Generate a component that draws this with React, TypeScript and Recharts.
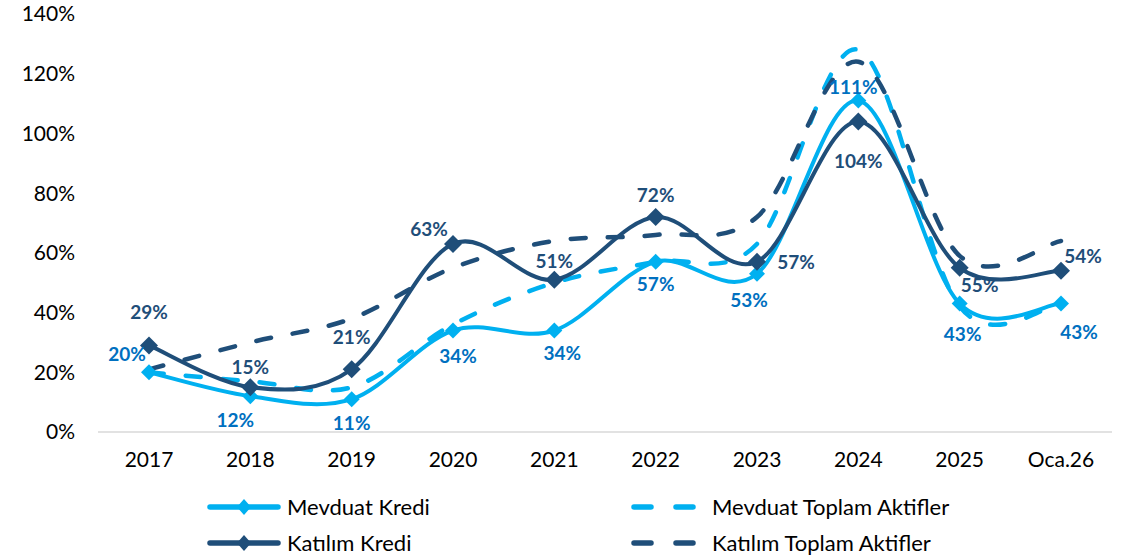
import { LineChart, Line, XAxis, YAxis } from "recharts"

// Growth rates, participation vs deposit banks (%)
const years = ["2017", "2018", "2019", "2020", "2021", "2022", "2023", "2024", "2025", "Oca.26"]
const mevduatKredi = [20, 12, 11, 34, 34, 57, 53, 111, 43, 43]
const mevduatAktif = [20, 17, 15, 36, 50, 57, 63, 128, 42, 43]
const katilimKredi = [29, 15, 21, 63, 51, 72, 57, 104, 55, 54]
const katilimAktif = [21, 30, 38, 55, 64, 66, 72, 124, 59, 64]
const yTicks = [0, 20, 40, 60, 80, 100, 120, 140]

const data = years.map((y, i) => ({
  year: y,
  mk: mevduatKredi[i],
  ma: mevduatAktif[i],
  kk: katilimKredi[i],
  ka: katilimAktif[i],
}))

const LIGHT = "#00B0F0"
const DARK = "#1F4E79"
const LIGHT_LABEL = "#0070C0"
const FONT = "Lato, 'Open Sans', sans-serif"

// label offsets (dx, dy) from each point
const mkLabelOffset = [[-22, -19], [-15, 23], [0, 23], [5, 25], [8, 22], [0, 22], [-8, 26], [-5, -14], [3, 30], [18, 28]]
const kkLabelOffset = [[0, -34], [0, -21], [0, -33], [-24, -15], [0, -19], [0, -23], [39, 0], [0, 39], [20, 17], [22, -15]]

// Excel-like smoothed line (Catmull-Rom through the points)
function excelCurve(context: any) {
  let pts: number[][] = []
  return {
    areaStart() {},
    areaEnd() {},
    lineStart() {
      pts = []
    },
    point(x: number, y: number) {
      pts.push([+x, +y])
    },
    lineEnd() {
      if (!pts.length) return
      context.moveTo(pts[0][0], pts[0][1])
      for (let i = 0; i < pts.length - 1; i++) {
        const p0 = pts[Math.max(i - 1, 0)]
        const p1 = pts[i]
        const p2 = pts[i + 1]
        const p3 = pts[Math.min(i + 2, pts.length - 1)]
        context.bezierCurveTo(
          p1[0] + (p2[0] - p0[0]) / 6,
          p1[1] + (p2[1] - p0[1]) / 6,
          p2[0] - (p3[0] - p1[0]) / 6,
          p2[1] - (p3[1] - p1[1]) / 6,
          p2[0],
          p2[1]
        )
      }
    },
  }
}

const diamond = (color: string, r: number) => (props: any) => {
  const { cx, cy, index } = props
  if (cx == null || cy == null) return <g key={index} />
  return (
    <polygon
      key={index}
      points={`${cx},${cy - r} ${cx + r},${cy} ${cx},${cy + r} ${cx - r},${cy}`}
      fill={color}
    />
  )
}

const makeLabel = (color: string, offsets: number[][]) => (props: any) => {
  const { x, y, value, index } = props
  const [dx, dy] = offsets[index] || [0, 0]
  return (
    <text
      x={x + dx}
      y={y + dy}
      textAnchor="middle"
      dominantBaseline="central"
      fill={color}
      fontFamily={FONT}
      fontWeight={700}
      fontSize={19}
    >
      {value}%
    </text>
  )
}

function LegendIcon({ color, dashed }: { color: string; dashed: boolean }) {
  if (dashed) {
    return (
      <svg width={68} height={16} style={{ display: "block" }}>
        <line x1={3} y1={8} x2={65} y2={8} stroke={color} strokeWidth={5.5} strokeLinecap="round" strokeDasharray="17 25" />
      </svg>
    )
  }
  return (
    <svg width={74} height={16} style={{ display: "block" }}>
      <line x1={3} y1={8} x2={71} y2={8} stroke={color} strokeWidth={5.5} strokeLinecap="round" />
      <polygon points="37,0 44,8 37,16 30,8" fill={color} />
    </svg>
  )
}

const legendItems = [
  { name: "Mevduat Kredi", color: LIGHT, dashed: false, left: 207, top: 494, gap: 6 },
  { name: "Mevduat Toplam Aktifler", color: LIGHT, dashed: true, left: 631, top: 494, gap: 13 },
  { name: "Katılım Kredi", color: DARK, dashed: false, left: 207, top: 530, gap: 6 },
  { name: "Katılım Toplam Aktifler", color: DARK, dashed: true, left: 631, top: 530, gap: 13 },
]

export default function App() {
  return (
    <div style={{ position: "absolute", left: 0, top: 0, width: 1122, height: 557, background: "#fff" }}>
      <LineChart width={1122} height={557} data={data} margin={{ top: 14, right: 10, left: 0, bottom: 85 }}>
        <XAxis
          dataKey="year"
          height={40}
          padding={{ left: 51, right: 51 }}
          tickLine={false}
          axisLine={{ stroke: "#D9D9D9", strokeWidth: 1.5 }}
          tick={{ fill: "#000", fontSize: 21, fontFamily: FONT }}
          tickMargin={14}
        />
        <YAxis
          width={98}
          domain={[0, 140]}
          ticks={yTicks}
          interval={0}
          tickLine={false}
          axisLine={false}
          tickFormatter={(v: number) => `${v}%`}
          tick={{ fill: "#000", fontSize: 21, fontFamily: FONT }}
          tickMargin={17}
        />
        <Line
          type={excelCurve as any}
          dataKey="ma"
          stroke={LIGHT}
          strokeWidth={4.5}
          strokeDasharray="15 22"
          strokeLinecap="round"
          dot={false}
          activeDot={false}
          isAnimationActive={false}
        />
        <Line
          type={excelCurve as any}
          dataKey="ka"
          stroke={DARK}
          strokeWidth={4.5}
          strokeDasharray="15 22"
          strokeLinecap="round"
          dot={false}
          activeDot={false}
          isAnimationActive={false}
        />
        <Line
          type={excelCurve as any}
          dataKey="mk"
          stroke={LIGHT}
          strokeWidth={4}
          dot={diamond(LIGHT, 8)}
          activeDot={false}
          label={makeLabel(LIGHT_LABEL, mkLabelOffset)}
          isAnimationActive={false}
        />
        <Line
          type={excelCurve as any}
          dataKey="kk"
          stroke={DARK}
          strokeWidth={4}
          dot={diamond(DARK, 9)}
          activeDot={false}
          label={makeLabel(DARK, kkLabelOffset)}
          isAnimationActive={false}
        />
      </LineChart>
      {legendItems.map((it) => (
        <div
          key={it.name}
          style={{
            position: "absolute",
            left: it.left,
            top: it.top,
            display: "flex",
            alignItems: "center",
            gap: it.gap,
            fontFamily: FONT,
            fontSize: 22,
            color: "#000",
            lineHeight: "26px",
          }}
        >
          <LegendIcon color={it.color} dashed={it.dashed} />
          <span>{it.name}</span>
        </div>
      ))}
    </div>
  )
}
